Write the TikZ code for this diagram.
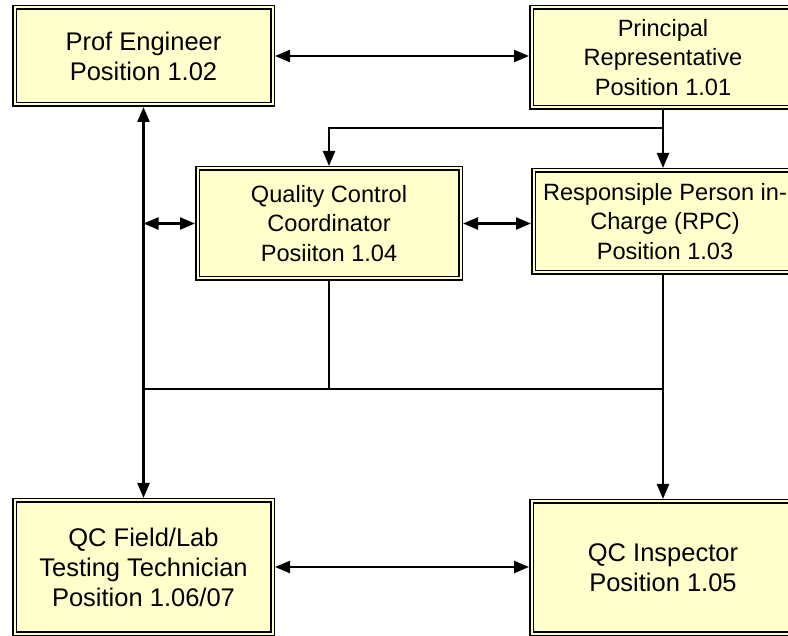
\documentclass[tikz,border=0pt]{standalone}
\usepackage{fontspec}
\setmainfont{Liberation Sans}
\usetikzlibrary{arrows.meta,calc}
\definecolor{boxfill}{RGB}{255,255,204}
\definecolor{linkblack}{RGB}{0,0,0}

\begin{document}
\begin{tikzpicture}[x=1pt, y=-1pt, >={Triangle[length=15pt,width=12pt]},
  post/.style={draw=black, fill=boxfill, line width=1.5pt, double=boxfill,
               double distance=2pt, outer sep=2.5pt, inner sep=0pt, align=center},
  bigtext/.style={font=\fontsize{25.5}{30}\selectfont},
  smalltext/.style={font=\fontsize{23.6}{29.5}\selectfont},
  link/.style={draw=linkblack, line width=2.3pt}]

  % --- Page frame ---
  \useasboundingbox (0,0) rectangle (788,636);

  % --- Top row ---
  \node[post, bigtext, minimum width=258, minimum height=97]
    (eng) at (143.5,56) {Prof Engineer\\Position 1.02};
  \node[post, smalltext, minimum width=263, minimum height=100]
    (rep) at (663,57.5) {Principal\\Representative\\Position 1.01};

  % --- Middle row ---
  \node[post, smalltext, minimum width=263, minimum height=110]
    (qcc) at (329,223.5) {Quality Control\\Coordinator\\Posiiton 1.04};
  \node[post, smalltext, minimum width=263, minimum height=102]
    (rpc) at (665,221.5) {Responsiple Person in-\\Charge (RPC)\\Position 1.03};

  % --- Bottom row ---
  \node[post, bigtext, minimum width=258, minimum height=133]
    (tech) at (143.5,567) {QC Field/Lab\\Testing Technician\\Position 1.06/07};
  \node[post, bigtext, minimum width=263, minimum height=132]
    (insp) at (663,567.5) {QC Inspector\\Position 1.05};

  % --- Junction points ---
  \coordinate (tap) at (663,128);
  \coordinate (bus) at (329,389);

  % --- Connectors ---
  \draw[link, <->] (eng.east) -- (eng.east -| rep.west);
  \draw[link, ->] (rep.south -| tap) -- (rpc.north -| tap);
  \draw[link, ->] (tap) -| (qcc.north);
  \draw[link, <->] (eng.south) -- (tech.north);
  \draw[link, <->] (qcc.west) -- (qcc.west -| eng.south);
  \draw[link, <->] (qcc.east) -- (qcc.east -| rpc.west);
  \draw[link] (qcc.south) -- (bus);
  \draw[link] (bus -| eng.south) -- (bus -| tap);
  \draw[link, ->] (rpc.south -| tap) -- (insp.north -| tap);
  \draw[link, <->] (tech.east) -- (tech.east -| insp.west);

\end{tikzpicture}
\end{document}
